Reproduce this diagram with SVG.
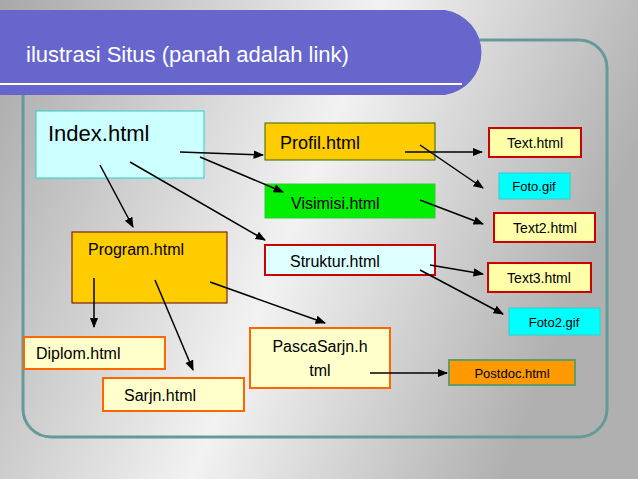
<svg xmlns="http://www.w3.org/2000/svg" width="638" height="479" viewBox="0 0 638 479">
<defs>
<linearGradient id="bg" x1="0" y1="0" x2="1" y2="0.3"><stop offset="0" stop-color="#a8a8a8"/><stop offset="0.55" stop-color="#f2f2f2"/><stop offset="1" stop-color="#b0b0b0"/></linearGradient>
<marker id="ah" viewBox="0 0 10 10" refX="9" refY="5" markerWidth="7" markerHeight="7" orient="auto"><path d="M0,1 L10,5 L0,9 z" fill="#000"/></marker>
<style>
text{font-family:"Liberation Sans",Arial,sans-serif;fill:#000}
.c line{stroke:#000;stroke-width:1.5;marker-end:url(#ah)}
.s{font-size:18px}.t{font-size:14px}
</style>
</defs>
<rect width="638" height="479" fill="url(#bg)"/>
<rect x="23" y="40" width="584" height="397" rx="28" fill="none" stroke="#669999" stroke-width="3"/>
<path d="M0,10 H445 A43,43 0 0 1 445,95 H0 Z" fill="#6666cc"/>
<line x1="0" y1="84" x2="462" y2="84" stroke="#fff" stroke-width="2"/>
<text x="26" y="62" font-size="22" style="fill:#fff">ilustrasi Situs (panah adalah link)</text>
<g id="index"><rect x="36" y="111" width="168" height="67" fill="#ccffff" stroke="#33cccc"/><text x="48" y="141" font-size="22">Index.html</text></g>
<g id="profil"><rect x="265" y="123" width="170" height="37" fill="#ffcc00" stroke="#336600"/><text x="280" y="149" class="s">Profil.html</text></g>
<g id="visimisi"><rect x="265" y="184" width="170" height="34" fill="#00ee00" stroke="#33cc33"/><text x="291" y="209" font-size="16">Visimisi.html</text></g>
<g id="struktur"><rect x="265" y="245" width="170" height="30" fill="#ddffff" stroke="#cc0000" stroke-width="2"/><text x="290" y="267" font-size="16">Struktur.html</text></g>
<g id="program"><rect x="72" y="232" width="155" height="71" fill="#ffcc00" stroke="#660000"/><text x="88" y="255" font-size="16">Program.html</text></g>
<g id="diplom"><rect x="24" y="337" width="141" height="32" fill="#ffffcc" stroke="#ff6600" stroke-width="2"/><text x="36" y="359" font-size="16">Diplom.html</text></g>
<g id="sarjn"><rect x="103" y="378" width="141" height="33" fill="#ffffcc" stroke="#ff6600" stroke-width="2"/><text x="124" y="401" font-size="16">Sarjn.html</text></g>
<g id="pasca"><rect x="250" y="328" width="140" height="60" fill="#ffffcc" stroke="#ff6600" stroke-width="2"/><text x="320" y="352" font-size="16" text-anchor="middle">PascaSarjn.h</text><text x="320" y="376" font-size="16" text-anchor="middle">tml</text></g>
<g id="text"><rect x="489" y="128" width="92" height="29" fill="#ffffaa" stroke="#cc0000" stroke-width="2"/><text x="535" y="148" class="t" text-anchor="middle">Text.html</text></g>
<g id="foto"><rect x="499" y="173" width="71" height="26" fill="#00ffff" stroke="#33cccc"/><text x="534" y="191" font-size="13" text-anchor="middle">Foto.gif</text></g>
<g id="text2"><rect x="494" y="213" width="101" height="29" fill="#ffffaa" stroke="#cc0000" stroke-width="2"/><text x="545" y="233" class="t" text-anchor="middle">Text2.html</text></g>
<g id="text3"><rect x="488" y="263" width="103" height="29" fill="#ffffaa" stroke="#cc0000" stroke-width="2"/><text x="539" y="283" class="t" text-anchor="middle">Text3.html</text></g>
<g id="foto2"><rect x="509" y="308" width="91" height="27" fill="#00ffff" stroke="#33cccc"/><text x="554" y="327" font-size="13" text-anchor="middle">Foto2.gif</text></g>
<g id="postdoc"><rect x="449" y="360" width="126" height="25" fill="#ff9900" stroke="#669966" stroke-width="2"/><text x="512" y="378" font-size="13" text-anchor="middle">Postdoc.html</text></g>
<g class="c">
<line x1="180" y1="152" x2="263" y2="155"/>
<line x1="200" y1="157" x2="283" y2="192"/>
<line x1="130" y1="162" x2="265" y2="240"/>
<line x1="100" y1="165" x2="133" y2="227"/>
<line x1="405" y1="152" x2="482" y2="152"/>
<line x1="420" y1="145" x2="483" y2="188"/>
<line x1="420" y1="200" x2="483" y2="224"/>
<line x1="430" y1="265" x2="483" y2="274"/>
<line x1="420" y1="270" x2="503" y2="314"/>
<line x1="94" y1="278" x2="94" y2="327"/>
<line x1="155" y1="280" x2="193" y2="370"/>
<line x1="210" y1="282" x2="325" y2="323"/>
<line x1="370" y1="373" x2="447" y2="373"/>
</g>
</svg>
